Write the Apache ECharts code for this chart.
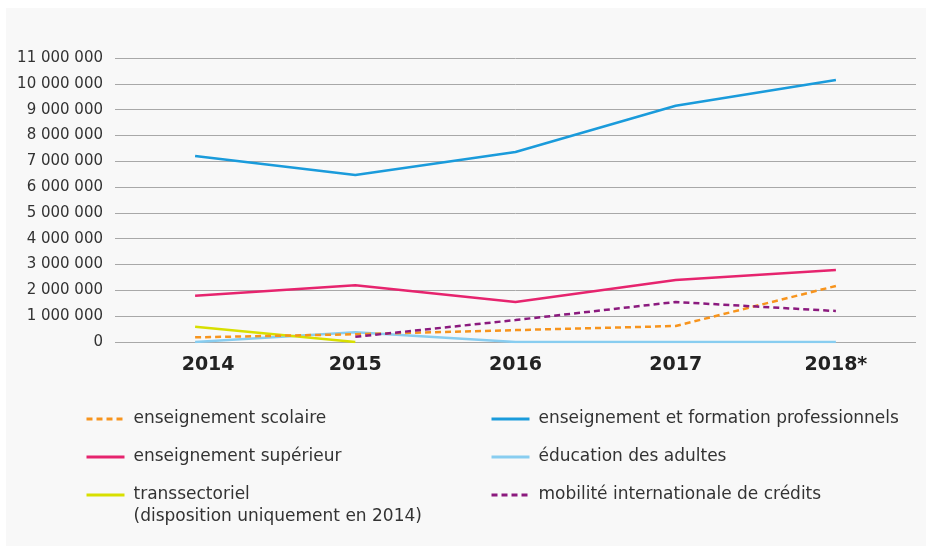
<!DOCTYPE html>
<html>
<head>
<meta charset="utf-8">
<script src="https://cdn.jsdelivr.net/npm/echarts@6/dist/echarts.min.js"></script>
<style>
  html, body { margin: 0; padding: 0; background: #ffffff; }
  #panel { position: absolute; left: 6px; top: 8px; width: 920px; height: 538px; background: #f8f8f8; }
  #chart { position: absolute; left: 0; top: 0; width: 926px; height: 551px; }
</style>
</head>
<body>
<div id="panel"></div>
<div id="chart"></div>
<script>
// années (2018 = estimation)
const years = ["2014", "2015", "2016", "2017", "2018*"];

// montants par secteur
const scolaire = [180000, 300000, 460000, 620000, 2170000];
const professionnels = [7200000, 6470000, 7360000, 9150000, 10150000];
const superieur = [1790000, 2200000, 1550000, 2400000, 2790000];
const adultes = [0, 380000, 0, 0, 0];
const transsectoriel = [590000, 0, null, null, null];
const mobilite = [null, 200000, 850000, 1550000, 1200000];

const font = "DejaVu Sans";

function fmt(v) {
  return String(v).replace(/\B(?=(\d{3})+(?!\d))/g, " ");
}

function line(name, data, color, dashed) {
  return {
    name: name,
    type: "line",
    data: data,
    symbol: "none",
    connectNulls: false,
    lineStyle: {
      color: color,
      width: 2.5,
      type: dashed ? [6, 4] : "solid",
    },
    itemStyle: { color: color },
  };
}

const chart = echarts.init(document.getElementById("chart"), null, { renderer: "canvas" });

const legendText = {
  fontFamily: font,
  fontSize: 17,
  color: "#333333",
  lineHeight: 22,
  padding: [0, 0, 0, 4],
};

function legend(left, top, data, formatter) {
  const l = {
    orient: "vertical",
    left: left,
    top: top,
    itemWidth: 38,
    itemHeight: 14,
    itemGap: 16,
    itemStyle: { opacity: 0 },
    lineStyle: { width: 3 },
    data: data,
    textStyle: legendText,
  };
  if (formatter) l.formatter = formatter;
  return l;
}

chart.setOption({
  backgroundColor: "transparent",
  animation: false,
  grid: { left: 115, right: 10, top: 58, bottom: 209 },
  xAxis: {
    type: "category",
    data: years,
    boundaryGap: true,
    axisLine: { show: false },
    axisTick: { show: false },
    axisLabel: {
      margin: 14,
      fontFamily: font,
      fontSize: 19,
      fontWeight: "bold",
      color: "#222222",
      formatter: function (v, i) {
        return i === 0 ? "{p|" + v + "}" : v;
      },
      rich: {
        p: { fontFamily: font, fontSize: 19, fontWeight: "bold", color: "#222222", padding: [0, 0, 0, 26] },
      },
    },
  },
  yAxis: {
    type: "value",
    min: 0,
    max: 11000000,
    interval: 1000000,
    axisLine: { show: false },
    axisTick: { show: false },
    splitLine: { lineStyle: { color: "#a8a8a8", width: 1 } },
    axisLabel: {
      margin: 12,
      fontFamily: font,
      fontSize: 15,
      color: "#333333",
      formatter: fmt,
    },
  },
  legend: [
    legend(80, 403, ["enseignement scolaire", "enseignement supérieur"]),
    legend(80, 457, ["transsectoriel"], function () {
      return "\ntranssectoriel\n(disposition uniquement en 2014)";
    }),
    legend(485, 403, [
      "enseignement et formation professionnels",
      "éducation des adultes",
      "mobilité internationale de crédits",
    ]),
  ],
  series: [
    line("éducation des adultes", adultes, "#88cdf0", false),
    line("transsectoriel", transsectoriel, "#d8df00", false),
    line("enseignement scolaire", scolaire, "#f7941d", true),
    line("mobilité internationale de crédits", mobilite, "#8b1a7e", true),
    line("enseignement supérieur", superieur, "#e6246e", false),
    line("enseignement et formation professionnels", professionnels, "#1a9bdb", false),
  ],
});
</script>
</body>
</html>
